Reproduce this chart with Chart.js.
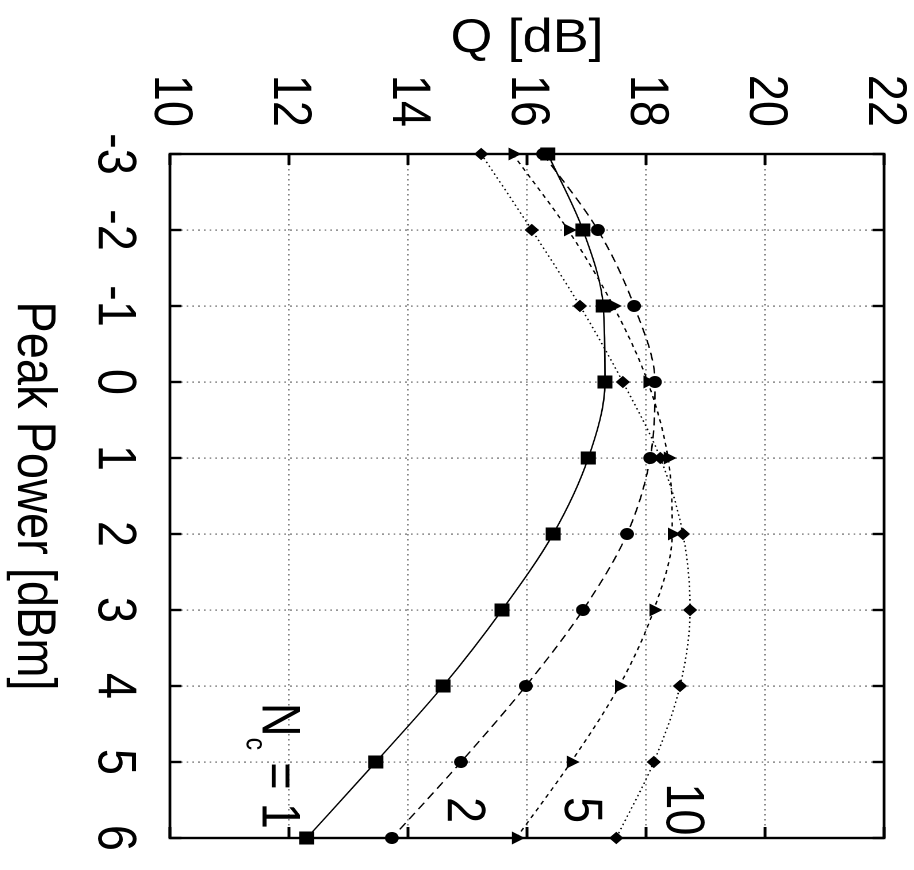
<!DOCTYPE html>
<html>
<head>
<meta charset="utf-8">
<script src="https://cdn.jsdelivr.net/npm/chart.js@4.4.1/dist/chart.umd.min.js"></script>
<style>
html, body { margin: 0; padding: 0; background: #fff; overflow: hidden; }
/* plot is laid out in portrait and turned a quarter clockwise */
#wrap {
	position: absolute; left: 0; top: 0;
	width: 870px; height: 795px;
	transform-origin: 0 0;
	transform: translate(914px, 0) rotate(90deg) scale(1, 1.15);
}
</style>
</head>
<body>
<div id="wrap"><canvas id="qChart" width="870" height="795"></canvas></div>
<script>
var power = [-3, -2, -1, 0, 1, 2, 3, 4, 5, 6];
var qNc1 = [16.35, 16.94, 17.28, 17.31, 17.03, 16.44, 15.58, 14.59, 13.46, 12.30];
var qNc2 = [16.27, 17.19, 17.80, 18.15, 18.07, 17.68, 16.94, 15.98, 14.89, 13.73];
var qNc5 = [15.76, 16.69, 17.45, 18.03, 18.37, 18.44, 18.13, 17.55, 16.74, 15.82];
var qNc10 = [15.23, 16.08, 16.89, 17.61, 18.24, 18.62, 18.74, 18.57, 18.13, 17.50];
var ncLabels = ['1', '2', '5', '10'];
var powerTicks = [-3, 6, 1];
var qTicks = [10, 22, 2];

var FONT = '"Liberation Sans", Arial, Helvetica, sans-serif';

function pts(ys) {
	return power.map(function(p, i) { return { x: p, y: ys[i] }; });
}

function serie(label, ys, shape, radius, dash) {
	return {
		label: label,
		data: pts(ys),
		borderColor: '#000',
		backgroundColor: '#000',
		borderWidth: 1.3,
		borderDash: dash,
		pointStyle: shape,
		pointRadius: radius,
		pointBorderWidth: 1,
		pointBorderColor: '#000',
		pointBackgroundColor: '#000',
		cubicInterpolationMode: 'monotone',
		clip: false
	};
}

// frame with inward tick marks, under the curves
var framePlugin = {
	id: 'frame',
	beforeDatasetsDraw: function(chart) {
		var ctx = chart.ctx, a = chart.chartArea;
		var xs = chart.scales.x, ys = chart.scales.y;
		ctx.save();
		ctx.strokeStyle = '#000';
		ctx.lineWidth = 2.4;
		ctx.setLineDash([]);
		ctx.strokeRect(a.left, a.top, a.right - a.left, a.bottom - a.top);
		ctx.beginPath();
		xs.ticks.forEach(function(t) {
			var px = xs.getPixelForValue(t.value);
			ctx.moveTo(px, a.bottom); ctx.lineTo(px, a.bottom - 10);
			ctx.moveTo(px, a.top); ctx.lineTo(px, a.top + 10);
		});
		ys.ticks.forEach(function(t) {
			var py = ys.getPixelForValue(t.value);
			ctx.moveTo(a.left, py); ctx.lineTo(a.left + 11, py);
			ctx.moveTo(a.right, py); ctx.lineTo(a.right - 11, py);
		});
		ctx.stroke();
		ctx.restore();
	}
};

// curve names written next to the line ends
var namePlugin = {
	id: 'names',
	afterDatasetsDraw: function(chart) {
		var ctx = chart.ctx;
		var xs = chart.scales.x, ys = chart.scales.y;
		ctx.save();
		ctx.fillStyle = '#000';
		ctx.textAlign = 'left';
		ctx.textBaseline = 'alphabetic';
		ctx.font = '47px ' + FONT;

		var x0 = xs.getPixelForValue(4.22), y0 = ys.getPixelForValue(11.56);
		ctx.fillText('N', x0, y0);
		var wN = ctx.measureText('N').width;
		ctx.font = '25px ' + FONT;
		ctx.fillText('c', x0 + wN + 1, y0 + 14);
		var wc = ctx.measureText('c').width;
		ctx.font = '47px ' + FONT;
		ctx.fillText(' = ' + ncLabels[0], x0 + wN + wc, y0);

		ctx.fillText(ncLabels[1], xs.getPixelForValue(5.46), ys.getPixelForValue(14.67));
		ctx.fillText(ncLabels[2], xs.getPixelForValue(5.46), ys.getPixelForValue(16.64));
		ctx.fillText(ncLabels[3], xs.getPixelForValue(5.28), ys.getPixelForValue(18.35));
		ctx.restore();
	}
};

var ctxQ = document.getElementById('qChart').getContext('2d');
var qChart = new Chart(ctxQ, {
	type: 'line',
	data: {
		datasets: [
			serie('Nc = 1', qNc1, 'rect', 8.5, []),
			serie('Nc = 2', qNc2, 'circle', 5.5, [8, 5]),
			serie('Nc = 5', qNc5, 'triangle', 6.5, [4, 4]),
			serie('Nc = 10', qNc10, 'rectRot', 5.5, [1.5, 3])
		]
	},
	options: {
		responsive: false,
		animation: false,
		devicePixelRatio: 2,
		layout: { padding: { top: 26, right: 32, left: 0, bottom: 0 } },
		plugins: { legend: { display: false }, tooltip: { enabled: false } },
		scales: {
			x: {
				type: 'linear',
				min: powerTicks[0],
				max: powerTicks[1],
				ticks: {
					stepSize: powerTicks[2],
					autoSkip: false,
					maxRotation: 0,
					padding: 21,
					color: '#000',
					font: { family: FONT, size: 47 }
				},
				grid: { color: '#6a6a6a', lineWidth: 1.2, drawTicks: false },
				border: { display: false, dash: [1.5, 3.5] },
				title: {
					display: true,
					text: 'Peak Power [dBm]',
					color: '#000',
					font: { family: FONT, size: 47 },
					padding: { top: 0, bottom: 1 }
				},
				afterFit: function(s) { s.height = 148; s.paddingLeft = 0; s.paddingRight = 0; }
			},
			y: {
				type: 'linear',
				min: qTicks[0],
				max: qTicks[1],
				ticks: {
					stepSize: qTicks[2],
					padding: 27,
					color: '#000',
					font: { family: FONT, size: 47 }
				},
				grid: { color: '#6a6a6a', lineWidth: 1.2, drawTicks: false },
				border: { display: false, dash: [1.5, 3.5] },
				title: {
					display: true,
					text: 'Q [dB]',
					color: '#000',
					font: { family: FONT, size: 47 },
					padding: { top: 11, bottom: 0 }
				},
				afterFit: function(s) { s.width = 154; s.paddingTop = 0; s.paddingBottom = 0; }
			}
		}
	},
	plugins: [framePlugin, namePlugin]
});
</script>
</body>
</html>
